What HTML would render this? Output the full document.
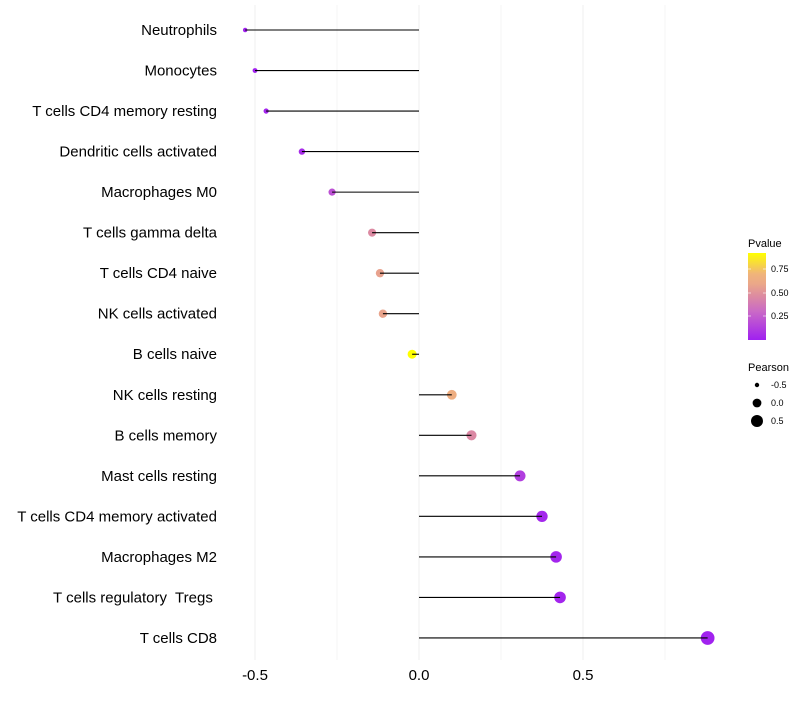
<!DOCTYPE html>
<html><head><meta charset="utf-8"><style>
body{margin:0;background:#fff;font-family:"Liberation Sans",sans-serif}
</style></head><body>
<svg id="c" width="800" height="700" xmlns="http://www.w3.org/2000/svg">
<defs><linearGradient id="pg" x1="0" y1="1" x2="0" y2="0">
<stop offset="0" stop-color="#A020F0"/><stop offset="0.33" stop-color="#CA6AC6"/><stop offset="0.49" stop-color="#DB88A4"/><stop offset="0.65" stop-color="#EBA888"/><stop offset="0.76" stop-color="#F0B47A"/><stop offset="1" stop-color="#FFFF00"/></linearGradient></defs>
<g id="grid"></g><g id="marks"></g><g id="labels"></g>
<g font-size="10">
<text x="748" y="247" font-size="11">Pvalue</text>
<rect x="748" y="253" width="18" height="87" fill="url(#pg)"/>
<g stroke="#fff" stroke-opacity="0.6"><line x1="748" x2="751" y1="269" y2="269"/><line x1="763" x2="766" y1="269" y2="269"/><line x1="748" x2="751" y1="293" y2="293"/><line x1="763" x2="766" y1="293" y2="293"/><line x1="748" x2="751" y1="316" y2="316"/><line x1="763" x2="766" y1="316" y2="316"/></g>
<text x="771" y="272" font-size="9">0.75</text><text x="771" y="296" font-size="9">0.50</text><text x="771" y="319" font-size="9">0.25</text>
</g>
<g>
<text x="748" y="371" font-size="11">Pearson</text>
<circle cx="757" cy="385" r="2.2" fill="#000"/><circle cx="757" cy="403" r="4.4" fill="#000"/><circle cx="757" cy="421" r="6" fill="#000"/>
<text x="771" y="388" font-size="9">-0.5</text><text x="771" y="406" font-size="9">0.0</text><text x="771" y="424" font-size="9">0.5</text>
</g>
</svg>
<script>
const categories=["Neutrophils","Monocytes","T cells CD4 memory resting","Dendritic cells activated","Macrophages M0","T cells gamma delta","T cells CD4 naive","NK cells activated","B cells naive","NK cells resting","B cells memory","Mast cells resting","T cells CD4 memory activated","Macrophages M2","T cells regulatory  Tregs ","T cells CD8"];
const pearson=[-0.53,-0.50,-0.466,-0.357,-0.265,-0.143,-0.119,-0.11,-0.021,0.10,0.16,0.308,0.375,0.418,0.43,0.88];
const pvalue=[0.01,0.01,0.02,0.05,0.2,0.46,0.57,0.58,0.92,0.65,0.45,0.12,0.03,0.02,0.02,0.01];
const xTicks=[-0.5,0,0.5];
const xTickLabels=["-0.5","0.0","0.5"];
const ns="http://www.w3.org/2000/svg";
const x=v=>419+v*328;
const y=i=>30+i*40.53;
const rad=v=>Math.sqrt(Math.max(5+(v+0.53)*30,1));
const stops=[[0,[160,32,240]],[0.3,[202,106,198]],[0.45,[219,136,164]],[0.6,[235,168,136]],[0.7,[240,180,122]],[0.92,[255,255,0]]];
function col(p){for(let k=1;k<stops.length;k++){if(p<=stops[k][0]||k==stops.length-1){const a=stops[k-1],b=stops[k];let t=(p-a[0])/(b[0]-a[0]);t=Math.max(0,Math.min(1,t));return "rgb("+a[1].map((c,j)=>Math.round(c+(b[1][j]-c)*t)).join(",")+")";}}}
function mk(t,at,parent){const e=document.createElementNS(ns,t);for(const k in at)e.setAttribute(k,at[k]);parent.appendChild(e);return e;}
const grid=document.getElementById('grid'),marks=document.getElementById('marks'),labels=document.getElementById('labels');
[-0.5,-0.25,0,0.25,0.5,0.75].forEach(v=>{const l=mk('line',{x1:x(v),x2:x(v),y1:5,y2:660,stroke:'#f0f0f0','stroke-width':v*4%2==0?1.1:0.6},grid);

});
categories.forEach((c,i)=>{
const p=mk('circle',{cx:x(pearson[i]),cy:y(i),r:rad(pearson[i]),fill:col(pvalue[i])},marks);


const s=mk('line',{x1:x(0),x2:x(pearson[i]),y1:y(i),y2:y(i),stroke:'#000','stroke-width':1.1},marks);


const t=mk('text',{x:217,y:y(i)+5,'text-anchor':'end','font-size':15,fill:'#000',style:'white-space:pre'},labels);
t.textContent=c;

});
xTicks.forEach((v,i)=>{const t=mk('text',{x:x(v),y:680,'text-anchor':'middle','font-size':15,fill:'#000'},labels);
t.textContent=xTickLabels[i];

});
</script>
</body></html>
